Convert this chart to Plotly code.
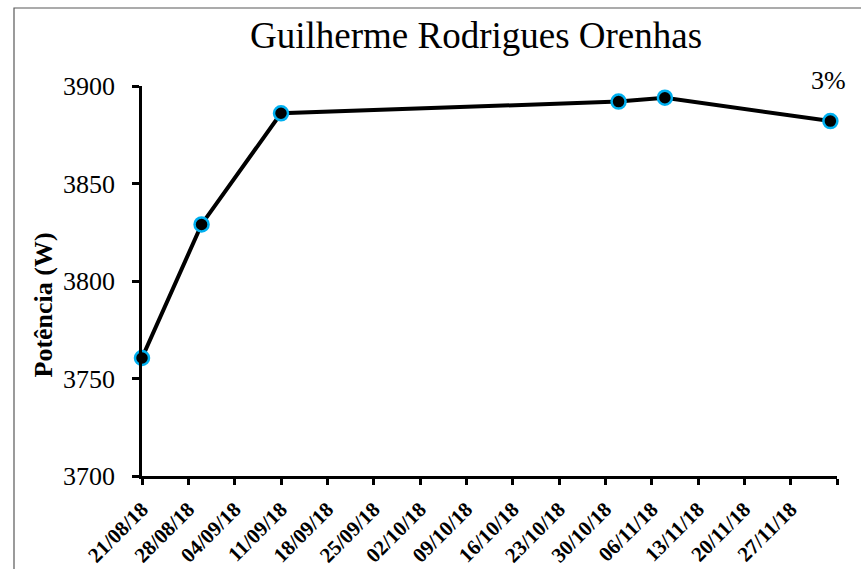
import plotly.graph_objects as go

# Data
dates = ["2018-08-21", "2018-08-30", "2018-09-11", "2018-11-01", "2018-11-08", "2018-12-03"]
power = [3760.5, 3829, 3886, 3892, 3894, 3882]

tick_dates = ["2018-08-21", "2018-08-28", "2018-09-04", "2018-09-11", "2018-09-18",
              "2018-09-25", "2018-10-02", "2018-10-09", "2018-10-16", "2018-10-23",
              "2018-10-30", "2018-11-06", "2018-11-13", "2018-11-20", "2018-11-27",
              "2018-12-04"]
tick_labels = ["21/08/18", "28/08/18", "04/09/18", "11/09/18", "18/09/18",
               "25/09/18", "02/10/18", "09/10/18", "16/10/18", "23/10/18",
               "30/10/18", "06/11/18", "13/11/18", "20/11/18", "27/11/18", ""]
y_ticks = [3700, 3750, 3800, 3850, 3900]

W, H = 861, 569
L, R, T, B = 142, 24, 86, 93
pw, ph = W - L - R, H - T - B

def px_x(x):
    return (x - L) / pw

def px_y(y):
    return 1 - (y - T) / ph

fig = go.Figure()
fig.add_trace(go.Scatter(
    x=dates, y=power, mode="lines+markers",
    line=dict(color="black", width=4),
    marker=dict(size=14, color="black", line=dict(color="#00B0F0", width=2.5)),
    cliponaxis=False, showlegend=False,
))

serif = "Liberation Serif, Times New Roman, serif"

fig.update_layout(
    width=W, height=H,
    margin=dict(l=L, r=R, t=T, b=B),
    paper_bgcolor="white", plot_bgcolor="white",
    font=dict(family=serif, color="black"),
    xaxis=dict(
        type="date", range=["2018-08-21", "2018-12-04"], automargin=False,
        tickmode="array", tickvals=tick_dates, ticktext=tick_labels,
        tickangle=-45, ticks="outside", ticklen=6, tickwidth=2.5, tickcolor="black",
        showline=True, linecolor="black", linewidth=2.5, showgrid=False, zeroline=False,
        ticklabelstandoff=4,
        tickfont=dict(family=serif, size=21, color="black", weight="bold"),
    ),
    yaxis=dict(
        range=[3700, 3900], tickmode="array", tickvals=y_ticks, automargin=False,
        ticks="outside", ticklen=7, tickwidth=2.5, tickcolor="black",
        showline=True, linecolor="black", linewidth=2.5, showgrid=False, zeroline=False,
        ticklabelstandoff=12,
        tickfont=dict(family=serif, size=26, color="black"),
    ),
)

fig.add_annotation(
    text="<b>Potência (W)</b>", xref="paper", yref="paper",
    x=px_x(42.5), y=px_y(305), showarrow=False, textangle=-90,
    xanchor="center", yanchor="middle",
    font=dict(family=serif, size=26, color="black"),
)
fig.add_annotation(
    text="Guilherme Rodrigues Orenhas", xref="paper", yref="paper",
    x=px_x(476), y=px_y(35), showarrow=False, xanchor="center", yanchor="middle",
    font=dict(family=serif, size=37, color="black"),
)
fig.add_annotation(
    text="3%", xref="paper", yref="paper",
    x=px_x(828), y=px_y(80), showarrow=False, xanchor="center", yanchor="middle",
    font=dict(family=serif, size=26, color="black"),
)

# chart-area border (left and top visible)
fig.add_shape(type="rect", xref="paper", yref="paper",
              x0=px_x(14), y0=px_y(590), x1=px_x(880), y1=px_y(8),
              line=dict(color="#595959", width=1.2), fillcolor="rgba(0,0,0,0)", layer="below")

fig.write_html("out.html", config={"displayModeBar": False},
               post_script="document.body.style.margin='0';")
